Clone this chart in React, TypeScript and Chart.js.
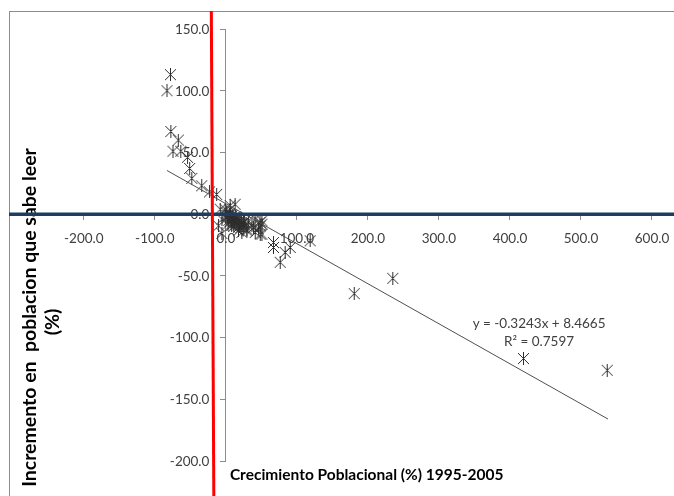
import React, { useEffect, useRef } from 'react';
import { Chart, registerables } from 'chart.js';

Chart.register(...registerables);

// Crecimiento poblacional (%) 1995-2005
const growthPct = [
  -78, -83, -77.5, -67, -74.5, -63.5, -54, -51, -48, -34, -23, -13,
  13, 6, -8, -1, 6, -5.6, -10.4, -5.6,
  1, 3, 5, 7, 9, 11, 2, 4, 8, 12, 14, 16, 18, 10, 13, 15, 17, 20, 22, 19, 24, 26, 21, 6, 3, 0, 11, 25, 27, 8,
  32, 36.6, 41, 46, 48, 29.6, 17.7, 24.8, 29.6, 38.9, 48.3, 50.7, 48.3, 41.3, 22.5, 67,
  50.7, 50.7, 67, 76.5, 83.5, 90.6, 118.7,
  180.7, 235, 419, 537,
];
// Incremento en poblacion que sabe leer (%)
const literacyPct = [
  113, 100, 67, 60, 51, 51, 46, 37, 29, 23, 18, 16,
  8, 7, 4, 4, 4, -4, -9.5, -15.7,
  1, -1, 0, -2, -1, -3, -3, -5, -4, -5, -2, -4, -6, -7, -8, -6, -9, -5, -7, -10, -8, -6, -11, -6, -8, -2, -10, -11, -9, -9,
  -5.4, -9.5, -4, -12, -6.8, -13.5, -13.5, -6.8, -12.2, -10.9, -9.5, -5.4, -16.2, -14.9, -14.9, -23,
  -8.1, -16.2, -27, -39, -31, -27, -21.6,
  -64.4, -52, -117, -126.5,
];

const xTickValues = [-200, -100, 0, 100, 200, 300, 400, 500, 600];
const xMin = -304;
const xMax = 631;
const yMin = -200;
const yMax = 150;
const yStep = 50;

const trendSlope = -0.3243;
const trendIntercept = 8.4665;
const trendXRange = [-83, 538];
const trendLabelLines = ['y = -0.3243x + 8.4665', 'R² = 0.7597'];
const trendLabelAnchor = { x: 441, y: -89 };

const xTitle = 'Crecimiento Poblacional (%) 1995-2005';
const yTitleLines = ['Incremento en  poblacion que sabe leer', '(%)'];

const redMarkerX = [-20.5, -17]; // top, bottom
const blueMarkerY = 0;

const TICK_FONT = '13.5px Lato';
const TICK_COLOR = '#404040';
const Y_TITLE_WIDTH = 339;

function makeAsterisk(): HTMLCanvasElement {
  const c = document.createElement('canvas');
  c.width = 13;
  c.height = 13;
  const g = c.getContext('2d')!;
  g.strokeStyle = '#2e2e2e';
  g.lineWidth = 1;
  g.beginPath();
  g.moveTo(1, 1);
  g.lineTo(12, 12);
  g.moveTo(12, 1);
  g.lineTo(1, 12);
  g.moveTo(6.5, 0);
  g.lineTo(6.5, 13);
  g.stroke();
  return c;
}

const fmt = (v: number) => Number(v).toFixed(1);

const overlayPlugin = {
  id: 'overlays',
  beforeDraw(chart: any) {
    const { ctx } = chart;
    ctx.save();
    ctx.fillStyle = '#ffffff';
    ctx.fillRect(0, 0, chart.width, chart.height);
    ctx.strokeStyle = '#8c8c8c';
    ctx.lineWidth = 1;
    ctx.strokeRect(9.5, 11.5, chart.width + 10, chart.height + 10);
    ctx.restore();
  },
  afterDraw(chart: any) {
    const { ctx, chartArea } = chart;
    const xs = chart.scales.x;
    const ys = chart.scales.y;
    const axisX = xs.getPixelForValue(0);
    const axisY = ys.getPixelForValue(0);
    ctx.save();

    // tick labels
    ctx.fillStyle = TICK_COLOR;
    ctx.font = TICK_FONT;
    ctx.textBaseline = 'alphabetic';
    ctx.textAlign = 'center';
    xs.ticks.forEach((t: any) => {
      ctx.fillText(fmt(t.value), xs.getPixelForValue(t.value), axisY + 28.5);
    });
    ctx.textAlign = 'right';
    ys.ticks.forEach((t: any) => {
      ctx.fillText(fmt(t.value), axisX - 16.5, ys.getPixelForValue(t.value) + 4.8);
    });

    // trendline label
    ctx.font = TICK_FONT;
    ctx.textAlign = 'center';
    ctx.textBaseline = 'middle';
    const lx = xs.getPixelForValue(trendLabelAnchor.x);
    const ly = ys.getPixelForValue(trendLabelAnchor.y);
    ctx.fillText(trendLabelLines[0], lx, ly);
    ctx.fillText(trendLabelLines[1], lx, ly + 18);

    // x title
    ctx.fillStyle = '#000000';
    ctx.font = 'bold 15.5px Lato';
    ctx.textAlign = 'left';
    ctx.textBaseline = 'alphabetic';
    ctx.fillText(xTitle, axisX + 4, chartArea.bottom + 18.5);

    // y title (fit to the measured length)
    ctx.font = 'bold 17px Lato';
    const w = ctx.measureText(yTitleLines[0]).width;
    const size = Math.max(12, Math.min(22, (17 * Y_TITLE_WIDTH) / w));
    ctx.font = `bold ${size.toFixed(2)}px Lato`;
    ctx.textAlign = 'center';
    ctx.save();
    ctx.translate(36, 317.5);
    ctx.rotate(-Math.PI / 2);
    ctx.fillText(yTitleLines[0], 0, 0);
    ctx.restore();
    ctx.save();
    ctx.translate(59, 322);
    ctx.rotate(-Math.PI / 2);
    ctx.fillText(yTitleLines[1], 0, 0);
    ctx.restore();

    // blue horizontal line
    const by = ys.getPixelForValue(blueMarkerY);
    ctx.strokeStyle = '#1f3b63';
    ctx.lineWidth = 3.5;
    ctx.beginPath();
    ctx.moveTo(9, by);
    ctx.lineTo(chart.width, by);
    ctx.stroke();

    // red vertical line
    ctx.strokeStyle = '#ff0000';
    ctx.lineWidth = 3;
    ctx.beginPath();
    ctx.moveTo(xs.getPixelForValue(redMarkerX[0]), 11);
    ctx.lineTo(xs.getPixelForValue(redMarkerX[1]), chart.height);
    ctx.stroke();

    ctx.restore();
  },
};

export default function App() {
  const ref = useRef<HTMLCanvasElement>(null);
  useEffect(() => {
    if (!ref.current) return;
    const asterisk = makeAsterisk();
    const points = growthPct.map((x, i) => ({ x, y: literacyPct[i] }));
    const trend = trendXRange.map((x) => ({ x, y: trendSlope * x + trendIntercept }));
    const chart = new Chart(ref.current, {
      type: 'scatter',
      data: {
        datasets: [
          {
            type: 'line',
            data: trend,
            borderColor: '#505050',
            borderWidth: 1,
            pointRadius: 0,
            fill: false,
          } as any,
          {
            data: points,
            pointStyle: asterisk as any,
            pointRadius: 6,
            borderColor: '#333333',
            backgroundColor: '#333333',
          },
        ],
      },
      options: {
        animation: false,
        responsive: false,
        events: [],
        layout: { autoPadding: false, padding: { left: 10, right: 0, top: 29, bottom: 35 } },
        plugins: {
          legend: { display: false },
          tooltip: { enabled: false },
        },
        scales: {
          x: {
            type: 'linear',
            min: xMin,
            max: xMax,
            position: { y: 0 } as any,
            afterBuildTicks: (scale: any) => {
              scale.ticks = xTickValues.map((v) => ({ value: v }));
            },
            grid: { drawOnChartArea: false, drawTicks: true, tickLength: 5, color: '#8c8c8c' },
            border: { display: true, color: '#8c8c8c', width: 1 },
            ticks: { display: false },
          },
          y: {
            type: 'linear',
            min: yMin,
            max: yMax,
            position: { x: 0 } as any,
            grid: { drawOnChartArea: false, drawTicks: true, tickLength: 5, color: '#8c8c8c' },
            border: { display: true, color: '#8c8c8c', width: 1 },
            ticks: { display: false, stepSize: yStep },
          },
        },
      },
      plugins: [overlayPlugin],
    });
    return () => chart.destroy();
  }, []);
  return (
    <div style={{ position: 'fixed', left: 0, top: 0, width: 674, height: 496, background: '#fff' }}>
      <canvas ref={ref} width={674} height={496} style={{ display: 'block' }} />
    </div>
  );
}
